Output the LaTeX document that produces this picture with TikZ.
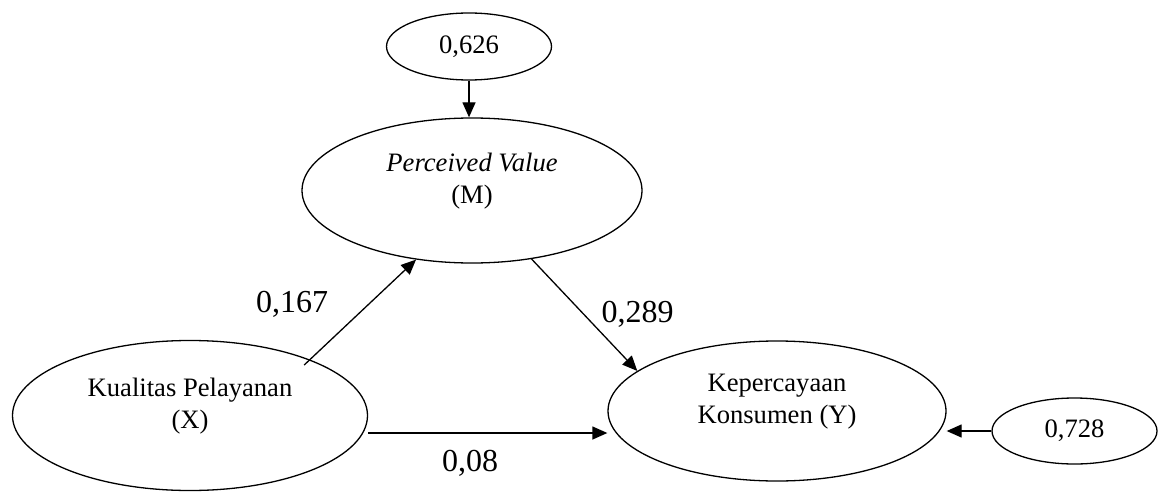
\documentclass[tikz,border=0pt]{standalone}
\usepackage{fontspec}
\setmainfont{Liberation Serif}
\usetikzlibrary{arrows.meta,shapes.geometric}

\begin{document}
\begin{tikzpicture}[x=0.5pt, y=-0.5pt,
    var/.style={draw, ellipse, line width=0.65pt, align=center, inner sep=0pt, font=\fontsize{13.3}{16}\selectfont, text depth=12pt},
    err/.style={draw, ellipse, line width=0.65pt, inner sep=0pt, font=\fontsize{13.3}{16}\selectfont},
    arr/.style={line width=0.65pt, -{Triangle[length=7.5pt,width=6.5pt]}},
    coef/.style={anchor=base, font=\fontsize{16}{19}\selectfont}]

    \useasboundingbox (0,0) rectangle (1160,492);

    \node[err, minimum width=82.5pt, minimum height=33.5pt] (e1) at (469,46.5) {0,626};
    \node[var, minimum width=170pt, minimum height=72.5pt] (m) at (472,190.5) {\textit{Perceived Value}\\(M)};
    \node[var, minimum width=177.5pt, minimum height=75pt] (x) at (190,415.5) {Kualitas Pelayanan\\(X)};
    \node[var, minimum width=169pt, minimum height=70pt] (y) at (777,411) {Kepercayaan\\Konsumen (Y)};
    \node[err, minimum width=82.5pt, minimum height=33pt] (e2) at (1074.5,431) {0,728};

    \draw[arr] (e1.south) -- (e1.south |- m.north);
    \draw[arr, shorten <=-4pt] (x.25) -- (m.231);
    \draw[arr] (m.311) -- (y.164);
    \draw[arr] ([yshift=-8.75pt]x.east) -- ([yshift=-8.75pt]x.east -| y.west);
    \draw[arr] (e2.west) -- (e2.west -| y.east);

    \node[coef] (b1) at (292,312) {0,167};
    \node[coef] (b2) at (637.5,322) {0,289};
    \node[coef] (b3) at (470,471) {0,08};

\end{tikzpicture}
\end{document}
